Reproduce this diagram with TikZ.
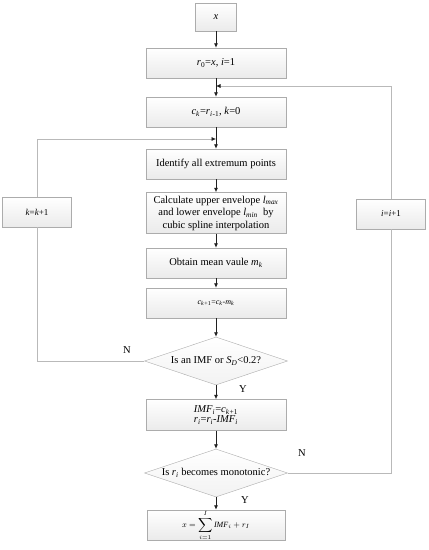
\documentclass[tikz,border=0pt]{standalone}
\usepackage{fontspec}
\setmainfont{Liberation Serif}
\usetikzlibrary{shapes.geometric,arrows.meta}

\newcommand{\iv}[1]{\textit{#1}}
\newcommand{\sub}[1]{\textsubscript{\textit{#1}}}

\begin{document}
\begin{tikzpicture}[x=1pt,y=-1pt,
    font=\fontsize{10.5}{12.5}\selectfont,
    box/.style={draw=gray!65,top color=white,bottom color=gray!16,
        minimum width=140pt,minimum height=30pt,inner sep=1pt,align=center},
    sidebox/.style={box,minimum width=69pt,font=\fontsize{9}{11}\selectfont},
    decide/.style={diamond,draw=gray!65,top color=white,bottom color=gray!10,
        aspect=3,inner sep=0pt,minimum width=143pt,minimum height=48pt},
    flow/.style={draw=gray!25!black,line width=0.8pt,-{Latex[length=4.5pt,width=4pt]}},
    back/.style={draw=gray!55,line width=0.6pt},
    backarrow/.style={back,-{Latex[length=4.5pt,width=4pt,color=gray!25!black]}}]
    \useasboundingbox (0,0) rectangle (429,550);

    % main column
    \node[box,minimum width=41pt,minimum height=28pt] (x) at (216,17) {\iv{x}};
    \node[box] (init) at (216,63) {\iv{r}\textsubscript{0}=\iv{x}, \iv{i}=1};
    \node[box] (start) at (216,112) {\iv{c}\sub{k}=\iv{r}\sub{i}\textsubscript{-1}, \iv{k}=0};
    \node[box] (ident) at (216,164) {Identify all extremum points};
    \node[box,minimum height=41pt,inner sep=0pt] (env) at (216,213)
        {Calculate upper envelope \iv{l}\sub{max}\\
         and lower envelope \iv{l}\sub{min}~ by\\
         cubic spline interpolation};
    \node[box] (mean) at (216,263) {Obtain mean vaule \iv{m}\sub{k}};
    \node[box,font=\fontsize{8}{10}\selectfont] (diff) at (216,303)
        {\iv{c}\sub{k}\textsubscript{+1}=\iv{c}\sub{k}-\iv{m}\sub{k}};
    \node[decide] (imf) at (216,361) {Is an IMF or \iv{S}\sub{D}<0.2?};
    \node[box,minimum height=31pt,inner sep=0pt] (store) at (216,415)
        {\iv{IMF}\sub{i}=\iv{c}\sub{k}\textsubscript{+1}\\[-2pt]
         \iv{r}\sub{i}=\iv{r}\sub{i}-\iv{IMF}\sub{i}};
    \node[decide] (mono) at (216,473) {Is \iv{r}\sub{i} becomes monotonic?};
    \node[box,minimum width=138pt,inner sep=0pt] (res) at (216,525)
        {\fontsize{8}{9}\selectfont$x=\displaystyle\sum_{i=1}^{I}\mathit{IMF}_i+r_I$};

    % loop boxes
    \node[sidebox] (kinc) at (37,212) {\iv{k}=\iv{k}+1};
    \node[sidebox] (iinc) at (391,214) {\iv{i}=\iv{i}+1};
    \coordinate (kin) at (216,139);
    \coordinate (iin) at (216,86);

    % labels
    \node (n1) at (127,350) {N};
    \node (y1) at (243,389) {Y};
    \node (n2) at (302,453) {N};
    \node (y2) at (245,500) {Y};

    \draw[flow] (x) -- (init);
    \draw[flow] (init) -- (start);
    \draw[flow] (start) -- (ident);
    \draw[flow] (ident) -- (env);
    \draw[flow] (env) -- (mean);
    \draw[flow] (mean) -- (diff);
    \draw[flow] (diff) -- (imf);
    \draw[flow] (imf) -- (store);
    \draw[flow] (store) -- (mono);
    \draw[flow] (mono) -- (res);

    \draw[back] (imf.west) -| (kinc.south);
    \draw[backarrow] (kinc.north) |- (kin);
    \draw[back] (mono.east) -| (iinc.south);
    \draw[backarrow] (iinc.north) |- (iin);
\end{tikzpicture}
\end{document}
